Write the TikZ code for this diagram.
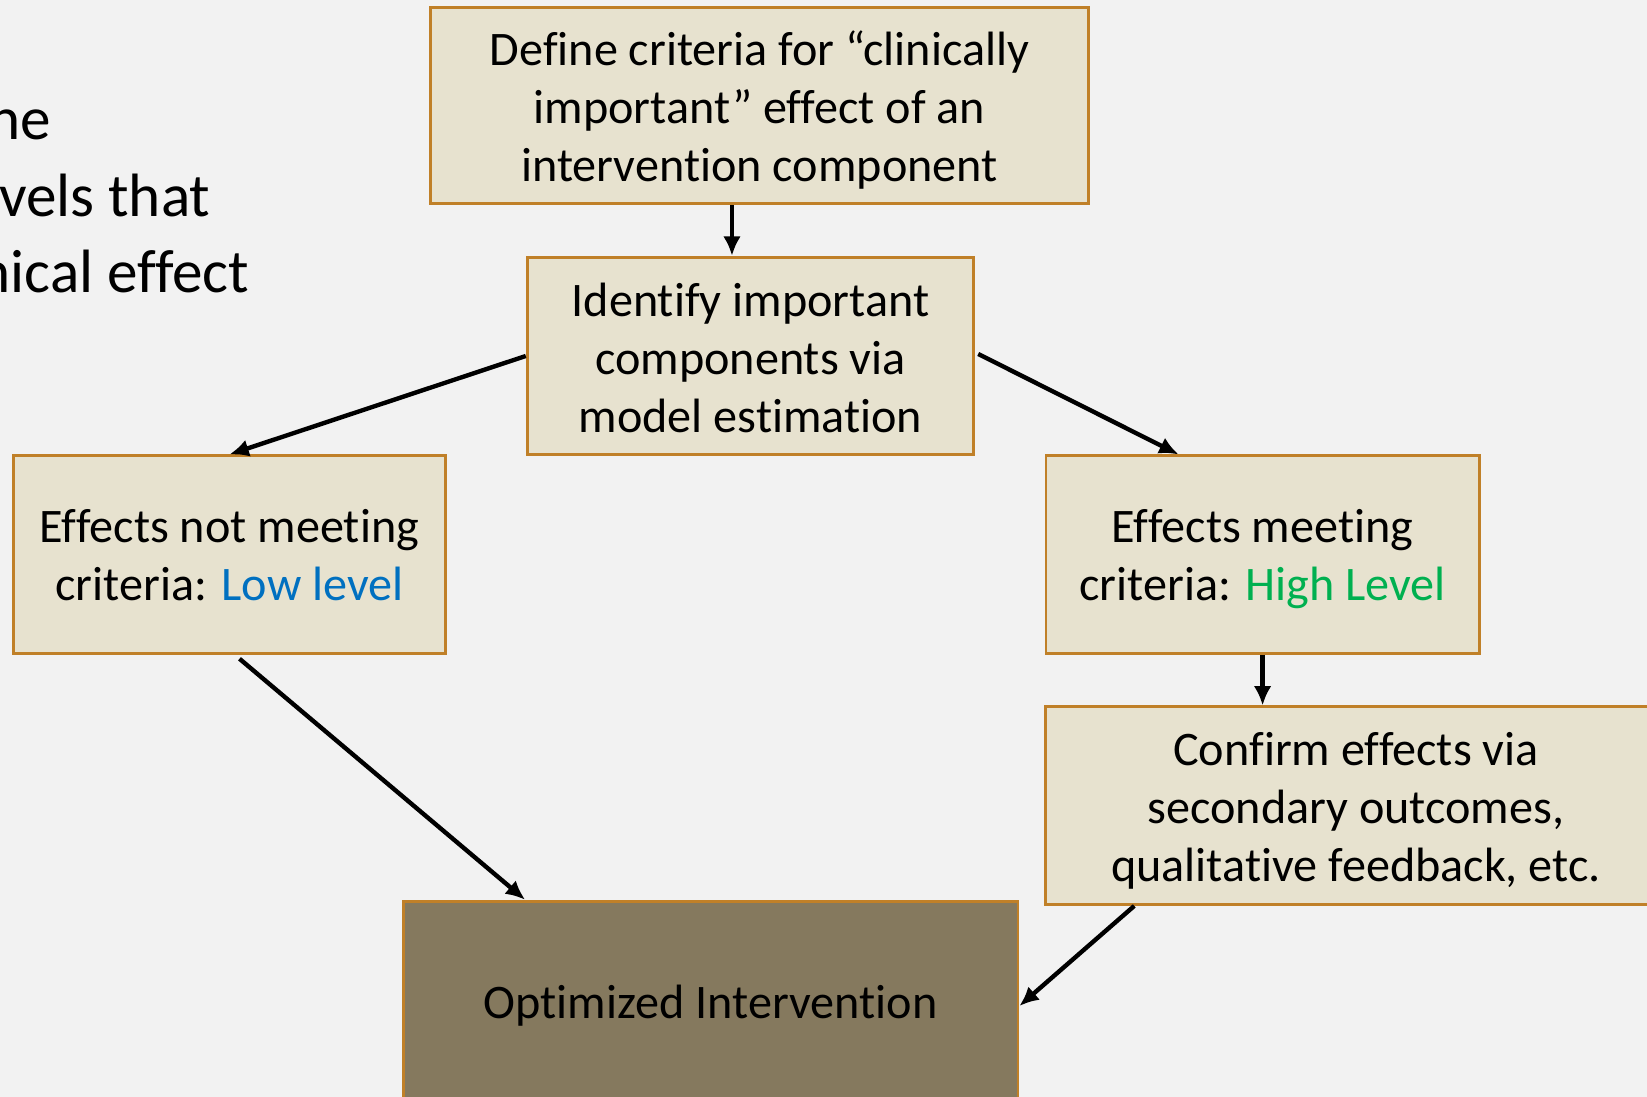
\documentclass[tikz,border=0pt]{standalone}
\usepackage{fontspec}
\setmainfont{Carlito}[Ligatures=NoCommon]
\usetikzlibrary{arrows.meta,calc}
\definecolor{bg}{HTML}{F2F2F2}
\definecolor{boxfill}{RGB}{231,226,207}
\definecolor{boxline}{RGB}{192,128,40}
\definecolor{optfill}{RGB}{133,121,94}
\definecolor{lowblue}{HTML}{0070C0}
\definecolor{highgreen}{HTML}{00B050}
\begin{document}
\begin{tikzpicture}[x=0.01cm,y=-0.01cm,
  stepbox/.style={draw=boxline, line width=0.8pt, fill=boxfill, inner sep=0pt},
  optbox/.style={stepbox, fill=optfill},
  steptext/.style={inner sep=0pt, align=center, font=\fontsize{13.7}{16.5}\selectfont},
  arr/.style={line width=1.25pt, -{Latex[length=5.5pt,width=5pt]}},
  bigtext/.style={anchor=base east, inner sep=0pt, font=\fontsize{17.4}{22}\selectfont}]
\fill[bg] (0,0) rectangle (1647,1097);
\useasboundingbox (0,0) rectangle (1647,1097);

\node[bigtext] (t1) at (52,140) {ne};
\node[bigtext] (t2) at (211,216.7) {vels that};
\node[bigtext] (t3) at (250,293) {nical effect};

\node[stepbox, minimum width=6.575cm, minimum height=1.964cm] (box1) at (759.5,105.6) {};
\node[stepbox, minimum width=4.464cm, minimum height=1.975cm] (box2) at (750.5,356) {};
\node[stepbox, minimum width=4.317cm, minimum height=1.974cm] (box3) at (229.5,554.6) {};
\node[stepbox, minimum width=4.328cm, minimum height=1.974cm] (box4) at (1262.6,554.6) {};
\node[stepbox, minimum width=6.2cm, minimum height=1.975cm] (box5) at (1356,805.7) {};
\node[optbox, minimum width=6.144cm, minimum height=2.036cm] (box6) at (710.6,1003) {};

\node[steptext] (box1t) at ([yshift=-0.04cm]box1.center)
  {Define criteria for “clinically\\important” effect of an\\intervention component};
\node[steptext] (box2t) at ([yshift=-0.02cm]box2.center)
  {Identify important\\components via\\model estimation};
\node[steptext] (box3t) at ([yshift=-0.01cm]box3.center)
  {Effects not meeting\\criteria: \textcolor{lowblue}{Low level}};
\node[steptext] (box4t) at ([yshift=-0.04cm]box4.center)
  {Effects meeting\\criteria: \textcolor{highgreen}{High Level}};
\node[steptext] (box5t) at ([yshift=-0.05cm]box5.center)
  {Confirm effects via\\secondary outcomes,\\qualitative feedback, etc.};
\node[steptext] (box6t) at ([yshift=-0.03cm]box6.center)
  {Optimized Intervention};

\draw[arr] ([xshift=-0.275cm]box1.south) -- ([xshift=-0.275cm]box1.south |- box2.north);
\draw[arr] (box2.west) -- (box3.north);
\draw[arr] ([xshift=0.03cm,yshift=0.02cm]box2.east) -- ([xshift=-0.84cm]box4.north);
\draw[arr] (box4.south) -- (box4.south |- box5.north);
\draw[arr] ([xshift=0.1cm,yshift=-0.04cm]box3.south) -- ([xshift=-1.854cm]box6.north);
\draw[arr] ([xshift=-2.216cm]box5.south) -- ([yshift=-0.03cm]box6.east);
\end{tikzpicture}
\end{document}
